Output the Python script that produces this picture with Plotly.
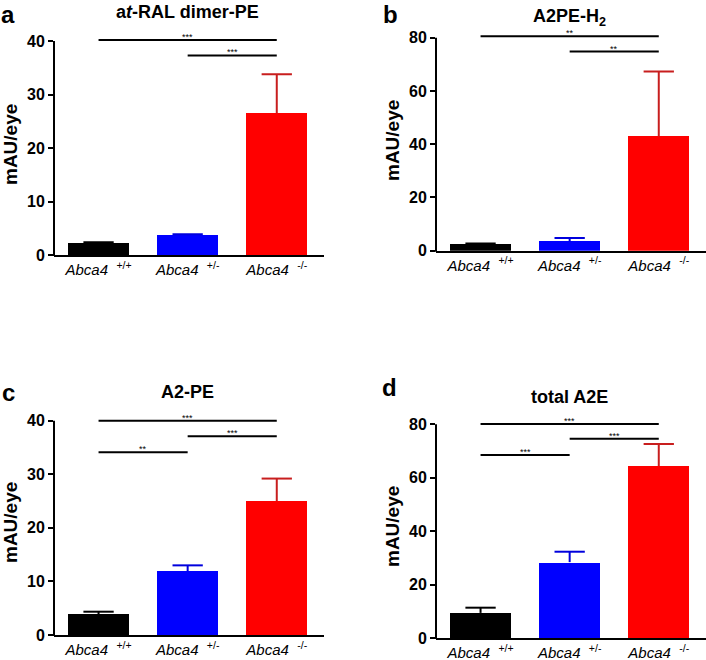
import plotly.graph_objects as go

# ---------------- data ----------------
groups = ["+/+", "+/-", "-/-"]
tick_labels = ["<i>Abca4</i>&nbsp;&nbsp;<sup>+/+</sup>",
               "<i>Abca4</i>&nbsp;&nbsp;<sup>+/-</sup>",
               "<i>Abca4</i>&nbsp;&nbsp;<sup>-/-</sup>"]

a_mean = [2.2, 3.7, 26.5]
a_err = [0.2, 0.2, 7.3]
b_mean = [2.4, 3.5, 42.9]
b_err = [0.3, 1.3, 24.4]
c_mean = [3.9, 11.9, 25.0]
c_err = [0.45, 1.1, 4.2]
d_mean = [9.4, 28.4, 64.4]
d_err = [1.95, 3.9, 8.2]

a_sig = [(0, 2, 40.2, "***"), (1, 2, 37.3, "***")]
b_sig = [(0, 2, 80.5, "**"), (1, 2, 74.8, "**")]
c_sig = [(0, 2, 40.0, "***"), (1, 2, 37.1, "***"), (0, 1, 34.1, "**")]
d_sig = [(0, 2, 80.1, "***"), (1, 2, 74.6, "***"), (0, 1, 68.5, "***")]

a_ticks = [0, 10, 20, 30, 40]
b_ticks = [0, 20, 40, 60, 80]
c_ticks = [0, 10, 20, 30, 40]
d_ticks = [0, 20, 40, 60, 80]

titles = ["a<i>t</i>-RAL dimer-PE", "A2PE-H<sub>2</sub>", "A2-PE", "total A2E"]
letters = ["a", "b", "c", "d"]

bar_colors = ["#000000", "#0000FF", "#FF0000"]
err_colors = ["#000000", "#0000DD", "#C81E1E"]

# ---------------- layout geometry (pixels) ----------------
W, H = 706, 660
FONT = "Liberation Sans, Arial, sans-serif"
BAR_W = 0.685
CAP_HW = 0.17

panels = [
    dict(xl=54, xr=324, y0=255.0, yt=41.0, mean=a_mean, err=a_err, sig=a_sig, ticks=a_ticks,
         title_xy=(187, 1), letter_xy=(8, 0), ytitle_xy=(10, 145)),
    dict(xl=436, xr=706, y0=250.7, yt=37.7, mean=b_mean, err=b_err, sig=b_sig, ticks=b_ticks,
         title_xy=(569, 5), letter_xy=(390, 0), ytitle_xy=(392, 141)),
    dict(xl=54, xr=324, y0=635.0, yt=420.7, mean=c_mean, err=c_err, sig=c_sig, ticks=c_ticks,
         title_xy=(187, 381), letter_xy=(8, 378), ytitle_xy=(10, 523)),
    dict(xl=436, xr=706, y0=638.0, yt=424.3, mean=d_mean, err=d_err, sig=d_sig, ticks=d_ticks,
         title_xy=(569, 386), letter_xy=(389, 373), ytitle_xy=(392, 527)),
]

fig = go.Figure()
shapes = []
annotations = []
x_range = [-0.5, 2.53]

for i, p in enumerate(panels):
    k = "" if i == 0 else str(i + 1)
    xa, ya = "x" + k, "y" + k
    tmax = p["ticks"][-1]
    scale = (p["y0"] - p["yt"]) / tmax
    rmax = tmax * 1.05
    top_px = p["y0"] - rmax * scale
    for j in range(3):
        fig.add_trace(go.Bar(
            x=[j], y=[p["mean"][j]], width=BAR_W,
            marker=dict(color=bar_colors[j], line=dict(width=0)),
            xaxis=xa, yaxis=ya, showlegend=False, hoverinfo="skip",
        ))
        # upper error bar (stem + cap) in data coordinates
        m, e = p["mean"][j], p["err"][j]
        shapes.append(dict(type="line", xref=xa, yref=ya, x0=j, x1=j, y0=m, y1=m + e,
                           line=dict(color=err_colors[j], width=2)))
        shapes.append(dict(type="line", xref=xa, yref=ya, x0=j - CAP_HW, x1=j + CAP_HW,
                           y0=m + e, y1=m + e, line=dict(color=err_colors[j], width=2)))
    fig.layout["xaxis" + k] = dict(
        domain=[p["xl"] / W, p["xr"] / W], range=x_range, anchor=ya,
        showline=True, linecolor="black", linewidth=2, ticks="",
        tickvals=[0, 1, 2], ticktext=tick_labels,
        tickfont=dict(family=FONT, size=15, color="black"),
        showgrid=False, zeroline=False, fixedrange=True, automargin=False,
    )
    fig.layout["yaxis" + k] = dict(
        domain=[1 - p["y0"] / H, 1 - top_px / H], range=[0, rmax], anchor=xa,
        showline=False, ticks="outside", ticklen=5, tickwidth=2, tickcolor="black",
        tickvals=p["ticks"],
        tickfont=dict(family=FONT, size=16, color="black", weight="bold"),
        showgrid=False, zeroline=False, fixedrange=True, automargin=False,
    )
    # y axis line up to the top tick
    shapes.append(dict(type="line", xref="paper", yref="paper",
                       x0=p["xl"] / W, x1=p["xl"] / W,
                       y0=1 - (p["y0"] + 1) / H, y1=1 - p["yt"] / H,
                       line=dict(color="black", width=2)))
    # significance bars
    for (g0, g1, lvl, txt) in p["sig"]:
        shapes.append(dict(type="line", xref=xa, yref=ya, x0=g0, x1=g1, y0=lvl, y1=lvl,
                           line=dict(color="black", width=2)))
        annotations.append(dict(x=(g0 + g1) / 2, y=lvl, xref=xa, yref=ya, text=txt,
                                showarrow=False, yanchor="bottom", yshift=-3, borderpad=0,
                                font=dict(family=FONT, size=9, color="black")))
    tx, ty = p["title_xy"]
    annotations.append(dict(x=tx / W, y=1 - ty / H, xref="paper", yref="paper", text=titles[i],
                            showarrow=False, xanchor="center", yanchor="top", borderpad=0,
                            font=dict(family=FONT, size=18, color="black", weight="bold")))
    lx, ly = p["letter_xy"]
    annotations.append(dict(x=lx / W, y=1 - ly / H, xref="paper", yref="paper", text=letters[i],
                            showarrow=False, xanchor="center", yanchor="top", borderpad=0,
                            font=dict(family=FONT, size=24, color="black", weight="bold")))
    yx, yy = p["ytitle_xy"]
    annotations.append(dict(x=yx / W, y=1 - yy / H, xref="paper", yref="paper", text="mAU/eye",
                            showarrow=False, xanchor="center", yanchor="middle", textangle=-90,
                            font=dict(family=FONT, size=19, color="black", weight="bold")))

fig.update_layout(
    width=W, height=H, margin=dict(l=0, r=0, t=0, b=0, autoexpand=False),
    paper_bgcolor="white", plot_bgcolor="white",
    shapes=shapes, annotations=annotations, bargap=0,
)

fig.write_html("out.html", config={"displayModeBar": False},
               post_script="document.body.style.margin='0';document.body.style.padding='0';")
